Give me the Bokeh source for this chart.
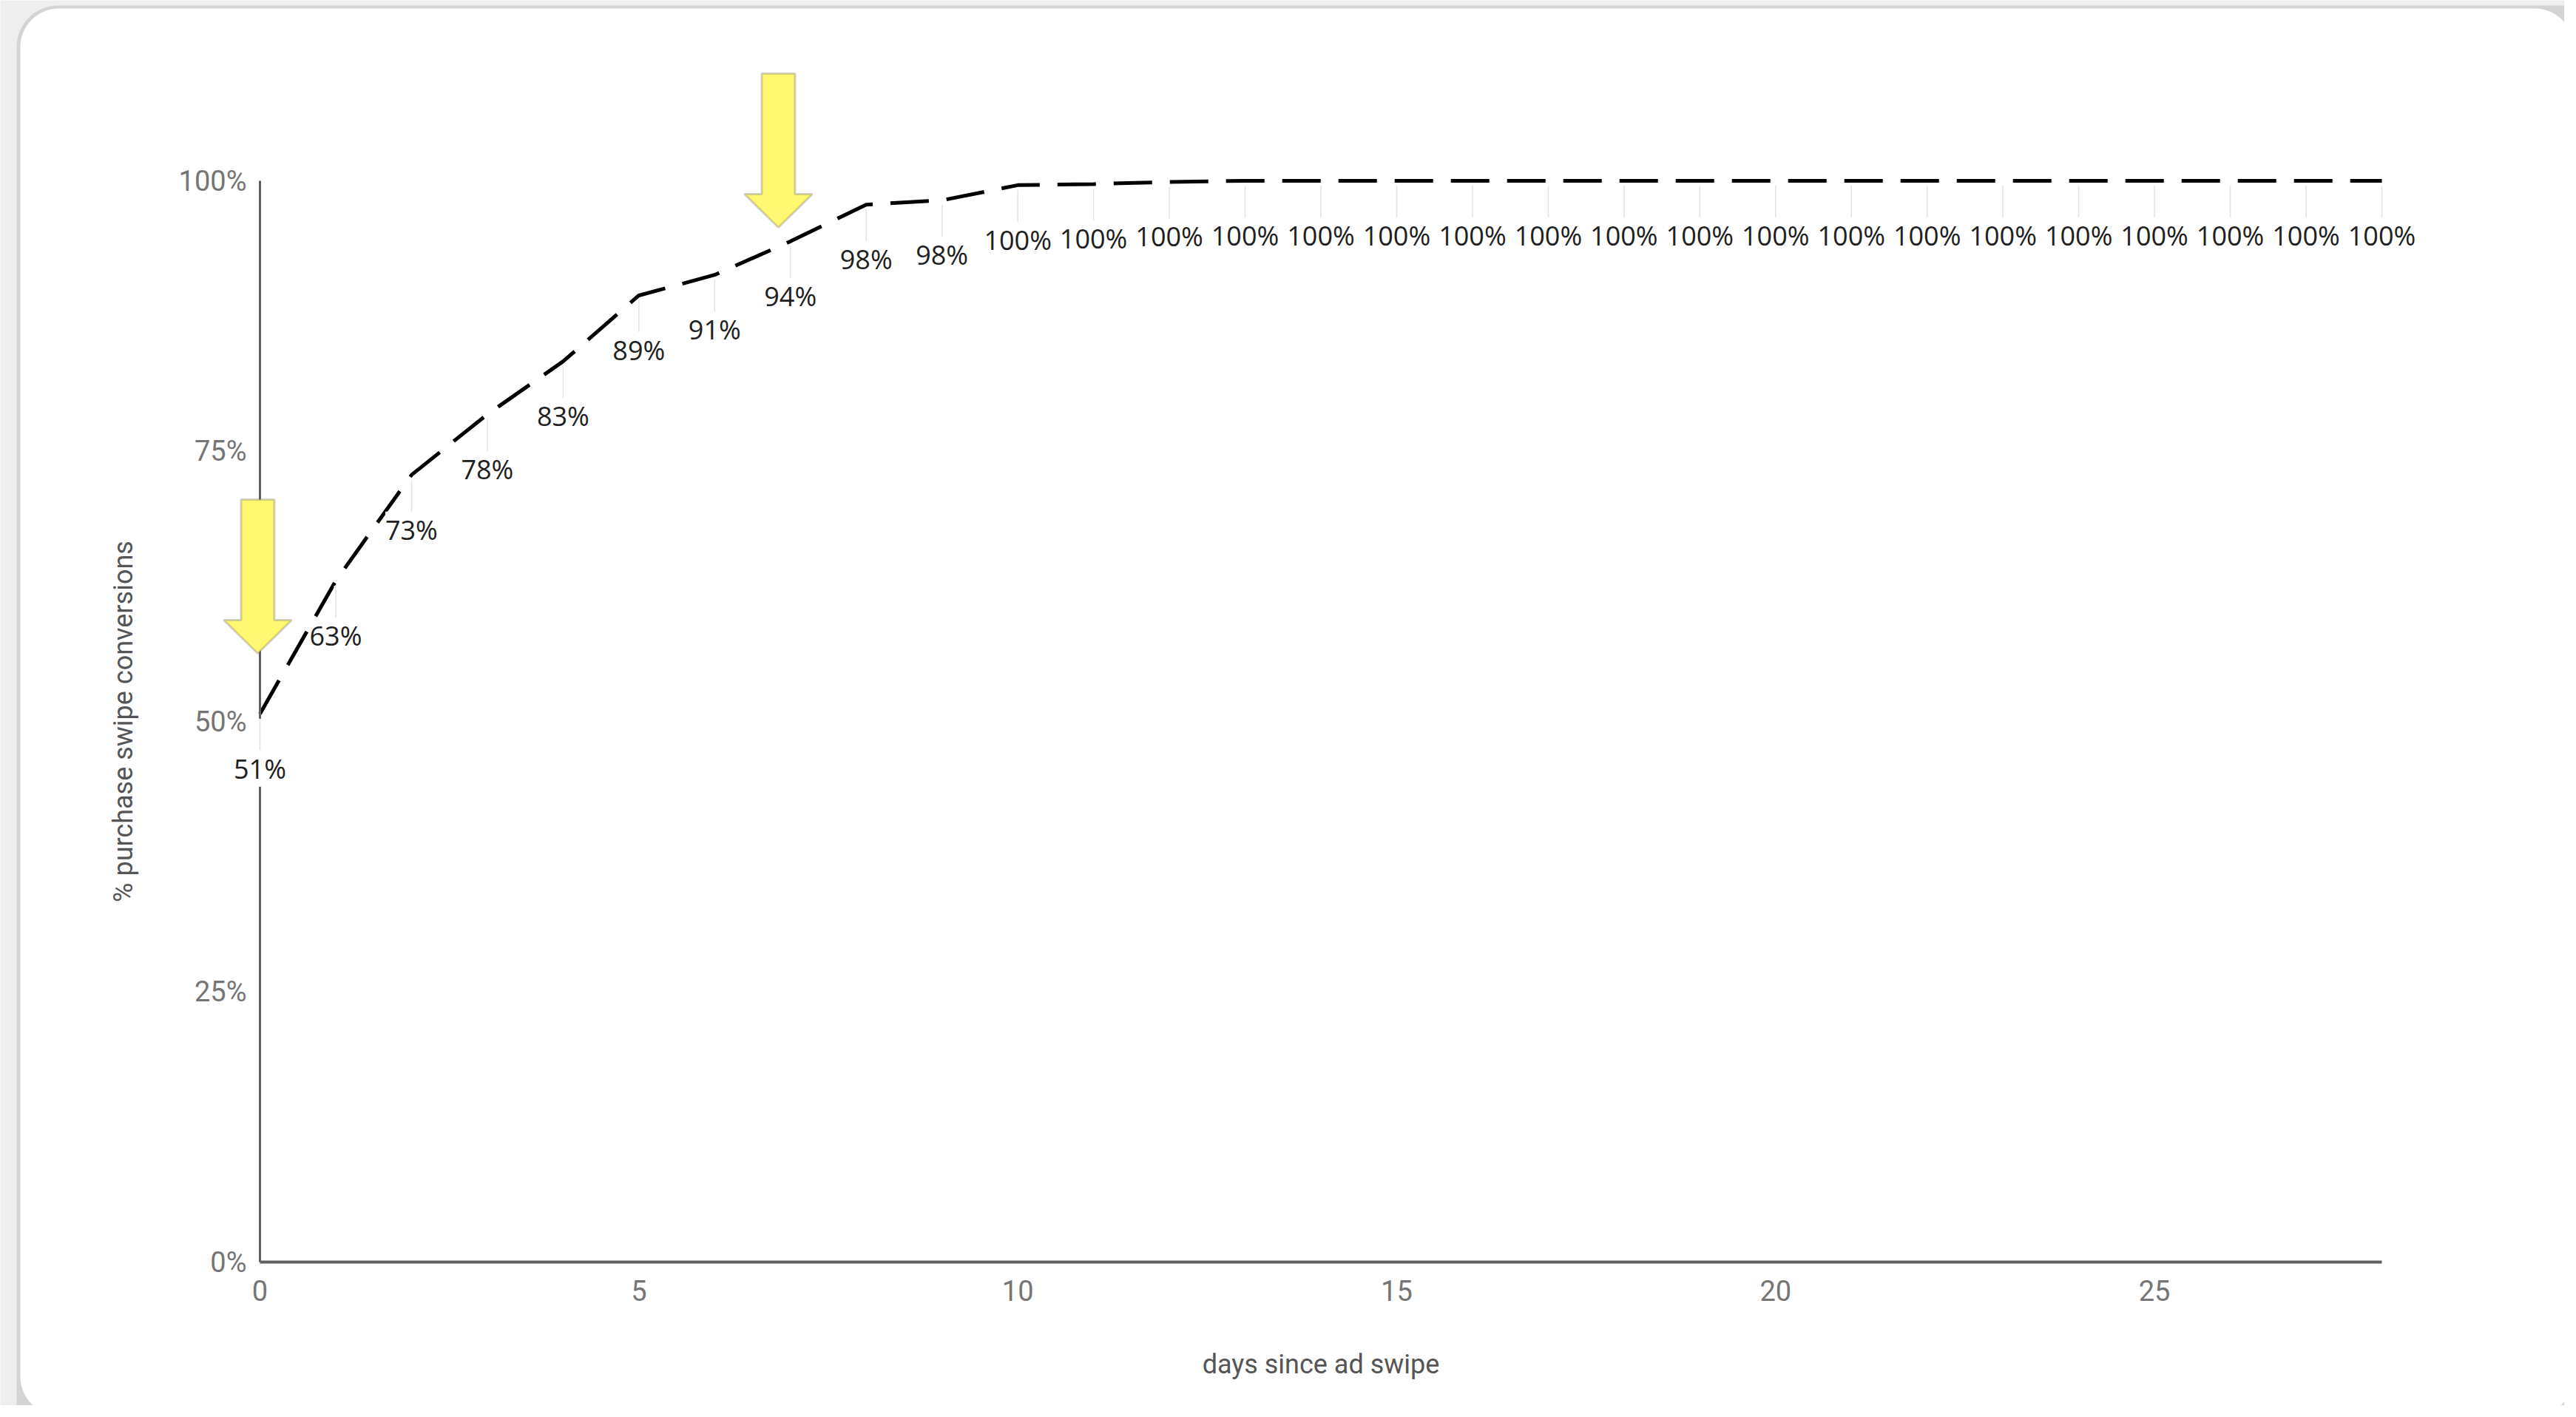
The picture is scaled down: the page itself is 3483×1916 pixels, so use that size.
from bokeh.plotting import figure
from bokeh.models import (Range1d, FixedTicker, PrintfTickFormatter, ColumnDataSource,
                          LabelSet, BoxAnnotation, PolyAnnotation)
from bokeh.core.properties import value
from bokeh.embed import file_html
from bokeh.resources import INLINE

# ---------------- data ----------------
days = list(range(29))
conversion_pct = [50.7, 63.0, 72.8, 78.4, 83.3, 89.4, 91.3, 94.4, 97.8, 98.2,
                  99.6, 99.7, 99.9, 100, 100, 100, 100, 100, 100, 100,
                  100, 100, 100, 100, 100, 100, 100, 100, 100]
point_labels = [f"{round(v)}%" for v in conversion_pct]
x_ticks = [0, 5, 10, 15, 20, 25]
y_ticks = [0, 25, 50, 75, 100]
x_title = "days since ad swipe"
y_title = "% purchase swipe conversions"

# ---------------- layout (canvas pixels) ----------------
W, H = 3467, 1900
X_MIN, X_MAX = 0, 28
Y_MIN, Y_MAX = 0, 100
PLOT_LEFT, PLOT_RIGHT = 351, 3220     # pixel position of X_MIN / X_MAX
PLOT_TOP, PLOT_BOTTOM = 244, 1706     # pixel position of Y_MAX / Y_MIN

px_x = (PLOT_RIGHT - PLOT_LEFT) / (X_MAX - X_MIN)
px_y = (PLOT_BOTTOM - PLOT_TOP) / (Y_MAX - Y_MIN)
x_range = Range1d(X_MIN - PLOT_LEFT / px_x, X_MAX + (W - PLOT_RIGHT) / px_x)
y_range = Range1d(Y_MIN - (H - PLOT_BOTTOM) / px_y, Y_MAX + PLOT_TOP / px_y)

p = figure(width=W, height=H, output_backend="svg", toolbar_location=None,
           x_range=x_range, y_range=y_range, title=None,
           min_border=0, min_border_left=0, min_border_right=0,
           min_border_top=0, min_border_bottom=0)
p.border_fill_color = "#eeeeee"
p.background_fill_color = "#eeeeee"
p.outline_line_color = None
p.xgrid.visible = False
p.ygrid.visible = False

# card behind the chart (shadow + white rounded card)
shadow = BoxAnnotation(left=22, right=3520, top=7, bottom=1960,
                       left_units="canvas", right_units="canvas",
                       top_units="canvas", bottom_units="canvas",
                       fill_color="#d4d4d4", fill_alpha=1.0, line_color=None,
                       border_radius=56, level="image")
card = BoxAnnotation(left=27, right=3479, top=11, bottom=1913,
                     left_units="canvas", right_units="canvas",
                     top_units="canvas", bottom_units="canvas",
                     fill_color="white", fill_alpha=1.0, line_color=None,
                     border_radius=52, level="image")
p.add_layout(shadow)
p.add_layout(card)

# axes, pinned at the data origin
for ax in (p.xaxis, p.yaxis):
    ax.fixed_location = 0
    ax.major_tick_line_color = None
    ax.minor_tick_line_color = None
    ax.major_label_text_font = "Roboto"
    ax.major_label_text_font_size = "38px"
    ax.major_label_text_color = "#757575"
    ax.axis_line_color = "#606060"
    ax.axis_label_text_font = "Roboto"
    ax.axis_label_text_font_size = "36px"
    ax.axis_label_text_font_style = "normal"
    ax.axis_label_text_color = "#555555"

p.xaxis.ticker = FixedTicker(ticks=x_ticks)
p.xaxis.bounds = (X_MIN, X_MAX)
p.xaxis.axis_line_width = 4
p.xaxis.major_label_standoff = 18
p.xaxis.axis_label = x_title
p.xaxis.axis_label_standoff = 62

p.yaxis.ticker = FixedTicker(ticks=y_ticks)
p.yaxis.formatter = PrintfTickFormatter(format="%d%%")
p.yaxis.bounds = (Y_MIN, Y_MAX)
p.yaxis.axis_line_width = 3
p.yaxis.major_label_standoff = 12
p.yaxis.axis_label = y_title
p.yaxis.axis_label_standoff = 51

# ---------------- marks ----------------
src = ColumnDataSource(dict(x=days, y=conversion_pct, label=point_labels,
                            y0=[v - 0.45 for v in conversion_pct],
                            y1=[v - 3.4 for v in conversion_pct]))

p.line(x="x", y="y", source=src, line_color="black", line_width=5,
       line_dash="52 24", line_cap="butt")

# leader lines from each point down to its label (white halo hides the axis)
p.segment(x0="x", y0="y0", x1="x", y1="y1", source=src,
          line_color="white", line_width=5, level="annotation")
p.segment(x0="x", y0="y0", x1="x", y1="y1", source=src,
          line_color="#e2e2e2", line_width=1.5, level="annotation")

labels = LabelSet(x="x", y="y", text="label", source=src,
                  y_offset=-74, text_align="center", text_baseline="middle",
                  text_font=value("Open Sans"), text_font_size="36px",
                  text_color="#202020", background_fill_color="white")
p.add_layout(labels)

# ---------------- highlight arrows (block arrows, canvas pixels) ----------------
def block_arrow(tip_x, tip_y):
    hw, sw, hh, total = 46, 22.5, 45, 208
    xs = [tip_x - sw, tip_x + sw, tip_x + sw, tip_x + hw, tip_x,
          tip_x - hw, tip_x - sw]
    ys = [tip_y - total, tip_y - total, tip_y - hh, tip_y - hh, tip_y,
          tip_y - hh, tip_y - hh]
    return PolyAnnotation(xs=xs, ys=ys, xs_units="canvas", ys_units="canvas",
                          fill_color="#fff870", fill_alpha=1.0,
                          line_color="#666666", line_width=3, level="overlay")

p.add_layout(block_arrow(348, 883))
p.add_layout(block_arrow(1052, 307))

open("out.html", "w").write(file_html(p, INLINE))
